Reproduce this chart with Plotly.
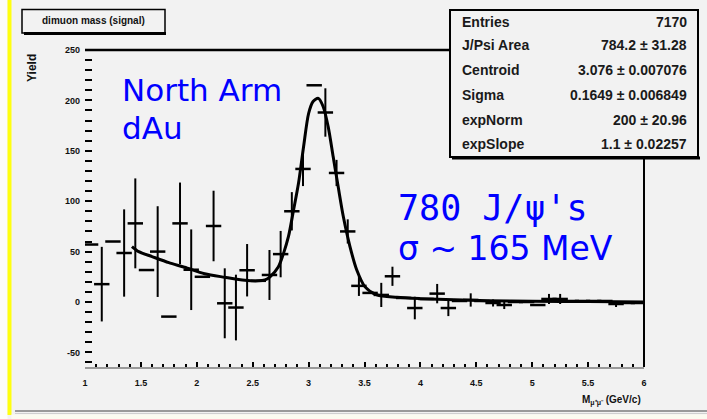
import plotly.graph_objects as go

# ---- histogram: dimuon invariant mass, 0.1 GeV/c bins ----
bin_centers = [1.05, 1.15, 1.25, 1.35, 1.45, 1.55, 1.65, 1.75, 1.85, 1.95,
               2.05, 2.15, 2.25, 2.35, 2.45, 2.55, 2.65, 2.75, 2.85, 2.95,
               3.05, 3.15, 3.25, 3.35, 3.45, 3.55, 3.65, 3.75, 3.85, 3.95,
               4.05, 4.15, 4.25, 4.35, 4.45, 4.55, 4.65, 4.75, 4.85, 4.95,
               5.05, 5.15, 5.25, 5.35, 5.45, 5.55, 5.65, 5.75, 5.85, 5.95]
bin_counts = [57, 17.7, 60, 48.6, 78, 31.7, 50, -14.5, 78, 32,
              25, 75.4, -1.3, -5.5, 31.5, 21, 26.8, 47.5, 90, 132,
              215, 188, 128, 70, 16, 9, 7, 25.5, 4, -6,
              3, 8.3, -6, 1, 2, 1, -1, -3, 0, 0,
              -3, 3, 3, 1, 1, 1, 1, -2, -1, -1]
bin_errors = [0, 37, 0, 43.3, 44.6, 0, 45, 0, 40.5, 40,
              0, 35, 34.7, 32.6, 26, 0, 24.8, 23, 19, 17,
              0, 24, 13, 12, 10, 0, 12, 9.5, 0, 11.2,
              0, 9.6, 8, 0, 6.6, 0, 3.5, 4, 0, 0,
              0, 5, 5, 0, 0, 0, 0, 3, 0, 0]

# ---- fitted curve (exponential background + Gaussian peak) ----
fit_mass = [1.42, 1.48, 1.60, 1.75, 1.89, 2.07, 2.25, 2.43, 2.55, 2.61,
            2.655, 2.73, 2.775, 2.82, 2.865, 2.91, 2.955, 3.00, 3.04, 3.087,
            3.13, 3.175, 3.22, 3.265, 3.31, 3.37, 3.43, 3.505, 3.61, 3.79,
            4.0, 4.3, 4.6, 5.0, 5.5, 6.0]
fit_yield = [55, 50, 45, 39, 34.5, 28, 24.5, 21.5, 21, 22,
             25, 35, 48, 65, 91, 118, 154, 187, 199, 202,
             194, 174, 144, 114, 85, 55, 32, 15, 7, 4.6,
             3.3, 2.1, 1.3, 0.8, 0.4, 0.1]

# ---- axis ticks ----
x_ticks = [1, 1.5, 2, 2.5, 3, 3.5, 4, 4.5, 5, 5.5, 6]
x_tick_text = ["1", "1.5", "2", "2.5", "3", "3.5", "4", "4.5", "5", "5.5", "6"]
y_ticks = [-50, 0, 50, 100, 150, 200, 250]
y_tick_text = ["-50", "0", "50", "100", "150", "200", "250"]

# ---- fit statistics panel ----
stat_names = ["Entries", "J/Psi Area", "Centroid", "Sigma", "expNorm", "expSlope"]
stat_values = ["7170", "784.2 ± 31.28", "3.076 ± 0.007076",
               "0.1649 ± 0.006849", "200 ± 20.96", "1.1 ± 0.02257"]

hist_title = "dimuon mass (signal)"
y_title = "Yield"
x_title = "M<sub>μ⁺μ⁻</sub> (GeV/c)"
notes_left = ["North Arm", "dAu"]
note_count = "780 J/ψ's"
note_width = "σ ~ 165 MeV"

# ---- canvas geometry (pixels) ----
W, H = 707, 419
ML, MR, MT, MB = 85, 63, 50, 52
PW, PH = W - ML - MR, H - MT - MB


def fx(p):
    return (p - ML) / PW


def fy(p):
    return 1 - (p - MT) / PH


ROOT_FONT = "Liberation Sans"
BG = "#f2f2f2"
BLUE = "#0000ff"

fig = go.Figure()

fig.add_trace(go.Scatter(
    x=bin_centers, y=bin_counts, mode="markers",
    marker=dict(symbol="line-ew", size=11,
                line=dict(width=2.5, color="black")),
    error_y=dict(type="data", array=bin_errors, visible=True,
                 thickness=2, width=0, color="black"),
    hoverinfo="x+y", showlegend=False,
))

fig.add_trace(go.Scatter(
    x=fit_mass, y=fit_yield, mode="lines",
    line=dict(color="black", width=3, shape="spline", smoothing=0.8),
    hoverinfo="skip", showlegend=False,
))

shapes = []
# left white strip and yellow border
shapes.append(dict(type="rect", xref="paper", yref="paper", layer="below",
                   x0=fx(0), x1=fx(7.5), y0=fy(0), y1=fy(H),
                   fillcolor="#fcfcfc", line=dict(width=0)))
shapes.append(dict(type="rect", xref="paper", yref="paper", layer="below",
                   x0=fx(7.5), x1=fx(11.5), y0=fy(0), y1=fy(415),
                   fillcolor="#ffff10", line=dict(width=0)))
# bottom separator and strip
shapes.append(dict(type="line", xref="paper", yref="paper", layer="below",
                   x0=fx(15), x1=fx(W), y0=fy(411), y1=fy(411),
                   line=dict(color="#9a9a9a", width=2)))
shapes.append(dict(type="line", xref="paper", yref="paper", layer="below",
                   x0=fx(15), x1=fx(W), y0=fy(413.5), y1=fy(413.5),
                   line=dict(color="#cfcfcf", width=1)))
shapes.append(dict(type="rect", xref="paper", yref="paper", layer="below",
                   x0=fx(11.5), x1=fx(W), y0=fy(414.5), y1=fy(H),
                   fillcolor="#fbfbf0", line=dict(width=0)))
# frame: top and right edges of the plot
shapes.append(dict(type="line", xref="paper", yref="paper",
                   x0=0, x1=1, y0=1, y1=1,
                   line=dict(color="black", width=2.5)))
shapes.append(dict(type="line", xref="paper", yref="paper",
                   x0=1, x1=1, y0=0, y1=1,
                   line=dict(color="black", width=2)))
# histogram title box with shadow
shapes.append(dict(type="rect", xref="paper", yref="paper",
                   x0=fx(22), x1=fx(165), y0=fy(33), y1=fy(9.5),
                   fillcolor=BG, line=dict(color="black", width=1.5)))
shapes.append(dict(type="line", xref="paper", yref="paper",
                   x0=fx(24), x1=fx(166), y0=fy(33.5), y1=fy(33.5),
                   line=dict(color="black", width=3)))
# statistics panel with shadow
shapes.append(dict(type="rect", xref="paper", yref="paper",
                   x0=fx(450), x1=fx(698), y0=fy(157), y1=fy(10),
                   fillcolor=BG, line=dict(color="black", width=2)))
shapes.append(dict(type="line", xref="paper", yref="paper",
                   x0=fx(452), x1=fx(700), y0=fy(158), y1=fy(158),
                   line=dict(color="black", width=3)))

annotations = []
annotations.append(dict(text=hist_title, xref="paper", yref="paper",
                        x=fx(93.5), y=fy(21), xanchor="center", yanchor="middle",
                        showarrow=False,
                        font=dict(family=ROOT_FONT, size=10, color="#111", weight="bold")))
annotations.append(dict(text=y_title, xref="paper", yref="paper",
                        x=fx(32), y=fy(68), xanchor="center", yanchor="middle",
                        textangle=-90, showarrow=False,
                        font=dict(family=ROOT_FONT, size=12, color="#111", weight="bold")))
annotations.append(dict(text=x_title, xref="paper", yref="paper",
                        x=fx(643), y=fy(400), xanchor="right", yanchor="middle",
                        showarrow=False,
                        font=dict(family=ROOT_FONT, size=10, color="#111", weight="bold")))

row_y = [21.5, 45, 70, 95, 120, 143.5]
for name, val, ry in zip(stat_names, stat_values, row_y):
    annotations.append(dict(text=name, xref="paper", yref="paper",
                            x=fx(460), y=fy(ry), xanchor="left", yanchor="middle",
                            showarrow=False,
                            font=dict(family=ROOT_FONT, size=14, color="#1a1a1a", weight="bold")))
    annotations.append(dict(text=val, xref="paper", yref="paper",
                            x=fx(689), y=fy(ry), xanchor="right", yanchor="middle",
                            showarrow=False,
                            font=dict(family=ROOT_FONT, size=14, color="#1a1a1a", weight="bold")))

for txt, ry in zip(notes_left, [89.5, 128]):
    annotations.append(dict(text=txt, xref="paper", yref="paper",
                            x=fx(120), y=fy(ry), xanchor="left", yanchor="middle",
                            showarrow=False,
                            font=dict(family="DejaVu Sans", size=31, color=BLUE)))
annotations.append(dict(text=note_count, xref="paper", yref="paper",
                        x=fx(396), y=fy(208), xanchor="left", yanchor="middle",
                        showarrow=False,
                        font=dict(family="DejaVu Sans Mono", size=35, color=BLUE)))
annotations.append(dict(text=note_width, xref="paper", yref="paper",
                        x=fx(396), y=fy(248.5), xanchor="left", yanchor="middle",
                        showarrow=False,
                        font=dict(family="DejaVu Sans", size=33, color=BLUE)))

fig.update_layout(
    width=W, height=H,
    margin=dict(l=ML, r=MR, t=MT, b=MB, pad=0),
    paper_bgcolor=BG, plot_bgcolor="rgba(0,0,0,0)",
    showlegend=False,
    shapes=shapes, annotations=annotations,
    xaxis=dict(range=[1, 6], tickvals=x_ticks, ticktext=x_tick_text,
               ticks="inside", ticklen=5, tickwidth=2, tickcolor="black",
               minor=dict(dtick=0.1, ticks="inside", ticklen=3, tickwidth=2, tickcolor="black"),
               showline=True, linecolor="#9a9a9a", linewidth=2,
               showgrid=False, zeroline=False, ticklabelstandoff=6,
               tickfont=dict(family=ROOT_FONT, size=9, color="#111", weight="bold")),
    yaxis=dict(range=[-64.5, 250], tickvals=y_ticks, ticktext=y_tick_text,
               ticks="inside", ticklen=7, tickwidth=2, tickcolor="black",
               minor=dict(dtick=10, ticks="inside", ticklen=7, tickwidth=2, tickcolor="black"),
               showline=False, showgrid=False, zeroline=False, ticklabelstandoff=4,
               tickfont=dict(family=ROOT_FONT, size=9, color="#111", weight="bold")),
)

fig.write_html("out.html")
